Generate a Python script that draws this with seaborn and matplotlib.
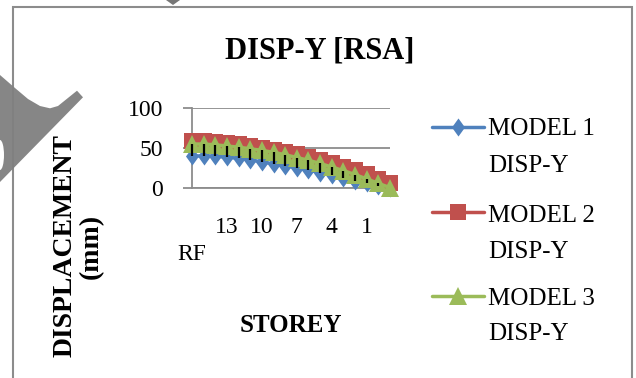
import numpy as np
import pandas as pd
import matplotlib
matplotlib.use("Agg")
import matplotlib.pyplot as plt
import seaborn as sns
from matplotlib.lines import Line2D
from matplotlib.patches import Polygon, Rectangle, Ellipse

# Storey categories, roof first
storeys = ["RF", "15", "14", "13", "12", "11", "10", "9", "8", "7",
           "6", "5", "4", "3", "2", "1", "GF", "BASE"]

# Response spectrum displacements in Y (mm)
model1_disp = [40, 40, 39.5, 38.5, 37, 35, 32.5, 30, 27.5, 25,
               22, 19, 15.5, 12, 8.5, 5.5, 2.5, 0]
model2_disp = [59, 58.5, 57.5, 56, 54.5, 52.5, 50.5, 48, 45, 42,
               38.5, 35, 31, 26.5, 22, 17, 11.5, 6]
model3_disp = [55, 55, 54, 52.5, 51, 49, 47, 44.5, 41.5, 38,
               34.5, 30.5, 26, 21.5, 16.5, 11, 5.5, 0]

series_names = ["MODEL 1\nDISP-Y", "MODEL 2\nDISP-Y", "MODEL 3\nDISP-Y"]
y_ticks = [0, 50, 100]
label_every = 3

BLUE, RED, GREEN = "#4F81BD", "#C0504D", "#9BBB59"
GRID = "#8c8c8c"
diamond = [(0, 1), (0.72, 0), (0, -1), (-0.72, 0)]

sns.set_theme(style="white")
plt.rcParams["font.family"] = ["Liberation Serif", "DejaVu Serif"]

W, H = 636, 378
fig = plt.figure(figsize=(W / 100, H / 100), dpi=100)
fig.patch.set_facecolor("white")


def fx(px):
    return px / W


def fy(py):
    return 1 - py / H


ax = fig.add_axes([fx(192), fy(187.7), fx(390) - fx(192), fy(108.3) - fy(187.7)])
ax.set_facecolor("white")

pos = np.arange(len(storeys))
df = pd.DataFrame({"pos": pos, "m1": model1_disp, "m2": model2_disp, "m3": model3_disp})

styles = [("m1", BLUE, diamond, 13), ("m2", RED, "s", 12), ("m3", GREEN, "^", 13)]
for i, (col, color, marker, ms) in enumerate(styles):
    sns.lineplot(data=df, x="pos", y=col, ax=ax, color=color, marker=marker,
                 markersize=ms, markeredgewidth=0, linewidth=2.5,
                 clip_on=False, legend=False, zorder=3 + i)

# high-low style connectors between first and last series
ax.vlines(df["pos"], df["m1"], df["m3"], color="black", lw=1.6, zorder=7, clip_on=False)

ax.set_xlim(0, len(storeys) - 1)
ax.set_ylim(y_ticks[0], y_ticks[-1])
ax.set_yticks(y_ticks)
ax.set_yticklabels([str(v) for v in y_ticks])
tick_pos = pos[::label_every][:6]
tick_lbl = [("\n" + storeys[p]) if storeys[p] == "RF" else storeys[p] for p in tick_pos]
ax.set_xticks(tick_pos)
ax.set_xticklabels(tick_lbl)
for t in ax.get_xticklabels():
    t.set_linespacing(1.4)

ax.yaxis.grid(True, color=GRID, lw=1.3)
ax.xaxis.grid(False)
ax.set_axisbelow(True)
for s in ["top", "right"]:
    ax.spines[s].set_visible(False)
for s in ["left", "bottom"]:
    ax.spines[s].set_color(GRID)
    ax.spines[s].set_linewidth(1.3)
ax.tick_params(axis="y", left=True, length=6.5, width=1.3, color=GRID, pad=14.5,
               labelsize=17, labelcolor="black")
ax.tick_params(axis="x", bottom=False, length=0, pad=21, labelsize=17, labelcolor="black")
ax.set_xlabel("")
ax.set_ylabel("")

# titles
fig.text(fx(320), fy(51), "DISP-Y [RSA]", ha="center", va="center",
         fontsize=22, fontweight="bold", color="black")
fig.text(fx(291), fy(326), "STOREY", ha="center", va="center",
         fontsize=18, fontweight="bold", color="black")
fig.text(fx(78), fy(246), "DISPLACEMENT\n(mm)", ha="center", va="center",
         rotation=90, fontsize=20, fontweight="bold", color="black",
         multialignment="center", linespacing=1.05)

# legend
leg_rows = [(126.7, 135, 172), (211.7, 222, 258), (296, 305, 340)]
for (name, (col, color, marker, ms), (ly, b1, b2)) in zip(series_names, styles, leg_rows):
    fig.add_artist(Line2D([fx(432), fx(484)], [fy(ly), fy(ly)], color=color, lw=2.5,
                          transform=fig.transFigure))
    fig.add_artist(Line2D([fx(458)], [fy(ly)], color=color, marker=marker, markersize=ms,
                          markeredgewidth=0, transform=fig.transFigure))
    first, second = name.split("\n")
    fig.text(fx(488), fy(b1), first, ha="left", va="baseline", fontsize=18, color="black")
    fig.text(fx(488), fy(b2), second, ha="left", va="baseline", fontsize=18, color="black")

# chart frame
fig.add_artist(Rectangle((fx(13), fy(395)), fx(632) - fx(13), fy(7) - fy(395),
                         fill=False, edgecolor=GRID, lw=1.5, transform=fig.transFigure,
                         zorder=1))

# grey callout shape in the upper left corner
shape_px = [(0, 75), (15, 88), (28, 99), (40, 106), (50, 108.3), (58, 106),
            (77, 90.7), (83, 97.3), (0, 182)]
fig.add_artist(Polygon([(fx(x), fy(y)) for x, y in shape_px], closed=True,
                       facecolor="#808080", edgecolor="none", alpha=0.95,
                       transform=fig.transFigure, zorder=2))
fig.add_artist(Ellipse((fx(0), fy(155)), fx(8), fy(140) - fy(170), facecolor="white",
                       edgecolor="none", transform=fig.transFigure, zorder=2.5))
fig.add_artist(Polygon([(fx(166), fy(0)), (fx(180), fy(0)), (fx(173), fy(5))],
                       closed=True, facecolor="#777777", edgecolor="none",
                       transform=fig.transFigure, zorder=2))

fig.savefig("out.png", dpi=100, facecolor="white")
